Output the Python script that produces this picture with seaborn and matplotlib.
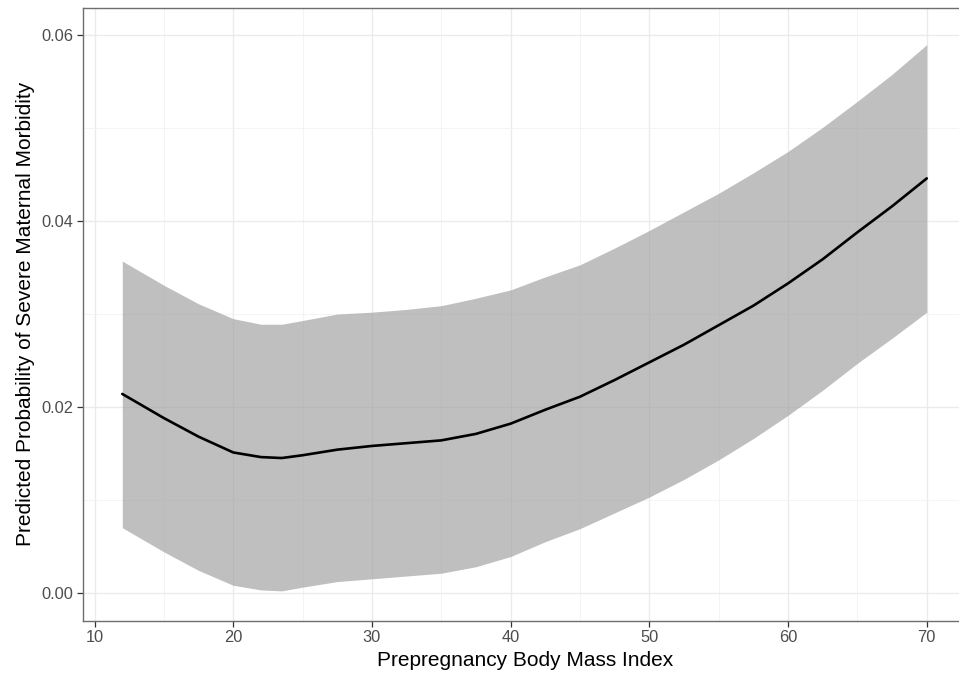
import numpy as np
import pandas as pd
import matplotlib
matplotlib.use("Agg")
import matplotlib.pyplot as plt
import seaborn as sns
from matplotlib.ticker import MultipleLocator

# values
bmi = [12, 15, 17.5, 20, 22, 23.5, 25, 27.5, 30, 32.5, 35, 37.5, 40,
       42.5, 45, 47.5, 50, 52.5, 55, 57.5, 60, 62.5, 65, 67.5, 70]
pred = [0.0214, 0.0188, 0.0168, 0.0151, 0.0146, 0.0145, 0.0148, 0.0154,
        0.0158, 0.0161, 0.0164, 0.0171, 0.0182, 0.0197, 0.0211, 0.0229,
        0.0248, 0.0267, 0.0288, 0.0309, 0.0333, 0.0359, 0.0388, 0.0416,
        0.0446]
upper = [0.0357, 0.0331, 0.0311, 0.0295, 0.0289, 0.0289, 0.0293, 0.0300,
         0.0302, 0.0305, 0.0309, 0.0317, 0.0326, 0.0340, 0.0353, 0.0371,
         0.0390, 0.0410, 0.0430, 0.0452, 0.0475, 0.0501, 0.0529, 0.0558,
         0.0590]
lower = [0.0070, 0.0044, 0.0024, 0.0008, 0.0003, 0.0002, 0.0006, 0.0012,
         0.0015, 0.0018, 0.0021, 0.0028, 0.0039, 0.0055, 0.0069, 0.0086,
         0.0103, 0.0122, 0.0143, 0.0166, 0.0191, 0.0218, 0.0247, 0.0274,
         0.0302]

df = pd.DataFrame({"bmi": bmi, "pred": pred, "lower": lower, "upper": upper})

sns.set_theme(style="white")
plt.rcParams["font.family"] = ["Liberation Sans", "DejaVu Sans"]

W, H = 959, 679
fig = plt.figure(figsize=(W / 100, H / 100), dpi=100)
left, top, bottom, right = 83.3, 8.0, 620.7, 967.0
ax = fig.add_axes([left / W, (H - bottom) / H, (right - left) / W, (bottom - top) / H])

ax.fill_between(df["bmi"], df["lower"], df["upper"], color="#999999",
                alpha=0.62, linewidth=0, zorder=2)
sns.lineplot(data=df, x="bmi", y="pred", color="black", linewidth=1.9,
             ax=ax, zorder=3)

ax.set_xlim(9.19, 72.9)
ax.set_ylim(-0.00301, 0.06294)
ax.xaxis.set_major_locator(MultipleLocator(10))
ax.xaxis.set_minor_locator(MultipleLocator(5))
ax.yaxis.set_major_locator(MultipleLocator(0.02))
ax.yaxis.set_minor_locator(MultipleLocator(0.01))
ax.set_yticks([0, 0.02, 0.04, 0.06])
ax.set_yticklabels(["0.00", "0.02", "0.04", "0.06"])

ax.grid(which="major", color="#EBEBEB", linewidth=1.0, zorder=1)
ax.grid(which="minor", color="#F2F2F2", linewidth=0.6, zorder=1)
ax.set_axisbelow(True)

for s in ["left", "bottom", "top"]:
    ax.spines[s].set_color("#6E6E6E")
    ax.spines[s].set_linewidth(1.0)
ax.spines["right"].set_visible(False)

ax.tick_params(which="major", length=4.5, width=0.9, color="#333333",
               labelsize=11.8, labelcolor="#4D4D4D", direction="out",
               left=True, bottom=True, pad=2.5)
ax.tick_params(which="minor", length=0)

ax.set_xlabel("Prepregnancy Body Mass Index", fontsize=15, color="black",
              labelpad=4)
ax.set_ylabel("Predicted Probability of Severe Maternal Morbidity",
              fontsize=15, color="black", labelpad=5)

fig.savefig("out.png", dpi=100)
